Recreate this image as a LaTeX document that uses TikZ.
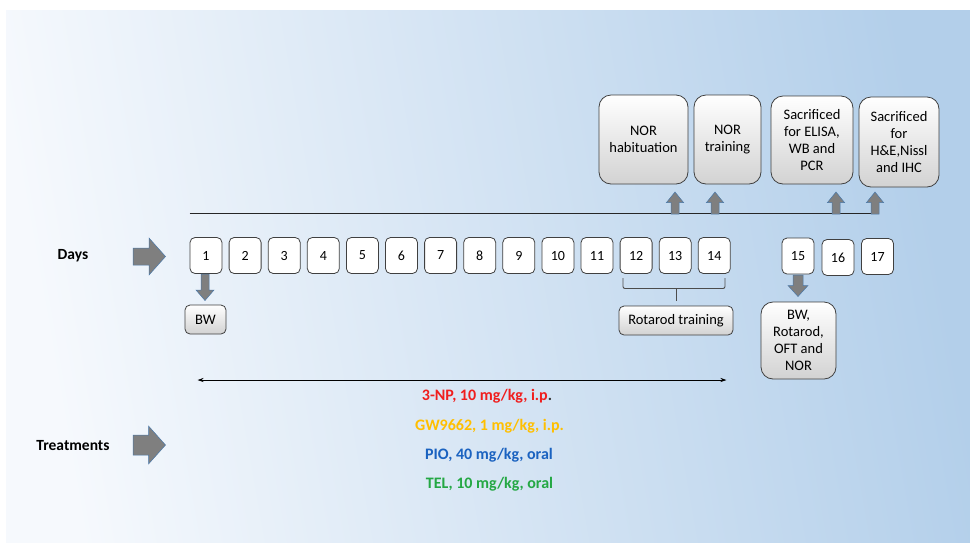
\documentclass[tikz,border=0pt]{standalone}
\usepackage{fontspec}
\setmainfont{Carlito}
\usetikzlibrary{arrows.meta,calc}

\definecolor{bgL}{HTML}{F6F9FD}
\definecolor{bgR}{HTML}{B3CFEA}
\definecolor{arrfill}{HTML}{7F7F7F}
\definecolor{arredge}{HTML}{4A78A8}
\definecolor{boxedge}{HTML}{404040}
\definecolor{boxlow}{HTML}{D2D2D2}
\definecolor{npred}{HTML}{F01E1E}
\definecolor{gwgold}{HTML}{FFBF00}
\definecolor{pioblue}{HTML}{1A62C0}
\definecolor{telgreen}{HTML}{24A844}

\tikzset{
  daybox/.style={draw=boxedge, line width=0.8pt, fill=white, rounded corners=5pt,
    minimum width=32pt, minimum height=36pt, inner sep=0pt,
    font=\fontsize{14}{16}\selectfont},
  eventbox/.style={draw=boxedge, line width=0.8pt, rounded corners=12pt,
    top color=white, bottom color=boxlow, align=center, inner sep=0pt,
    font=\fontsize{14.5}{17}\selectfont},
  smallbox/.style={eventbox, rounded corners=5pt},
  rowlabel/.style={font=\fontsize{15.5}{17}\selectfont\bfseries},
  treat/.style={font=\fontsize{16}{18}\selectfont\bfseries},
  blockarr/.style={fill=arrfill, draw=arredge, line width=0.5pt},
  bracketline/.style={line width=0.9pt, color=black!70},
}

% block arrow: tail, tip, shaft half width, head half width, head length
\newcommand\blockarrow[5]{%
  \coordinate (hb) at ($(#2)!#5!(#1)$);
  \path[blockarr]
    ($(#1)!#3!90:(#2)$) -- ($(hb)!#3!-90:(#1)$) -- ($(hb)!#4!-90:(#1)$) --
    (#2) -- ($(hb)!#4!90:(#1)$) -- ($(hb)!#3!90:(#1)$) --
    ($(#1)!#3!-90:(#2)$) -- cycle;
}

\begin{document}
\begin{tikzpicture}[x=1pt,y=-1pt]
  % page and shaded panel
  \path[use as bounding box] (0,0) rectangle (970,542);
  \fill[white] (0,0) rectangle (970,542);
  \shade[left color=bgL, right color=bgR, shading angle=100] (6,10) rectangle (970,542);

  % row labels and their arrows
  \node[rowlabel] (days) at (73,256) {Days};
  \node[rowlabel] (treatments) at (73,446) {Treatments};
  \coordinate (da1) at (133,256.5);
  \coordinate (da2) at (165.5,256.5);
  \blockarrow{da1}{da2}{8.5pt}{18.5pt}{16.5pt}
  \coordinate (ta1) at (133,445);
  \coordinate (ta2) at (165.5,445);
  \blockarrow{ta1}{ta2}{10pt}{19pt}{17pt}

  % days 1 to 14
  \foreach \i in {1,...,14}{
    \node[daybox] (d\i) at ({206+39.1*(\i-1)},255.5) {\i};
  }
  % days 15 to 17
  \node[daybox] (d15) at (798,256) {15};
  \node[daybox] (d16) at (838,257.5) {16};
  \node[daybox] (d17) at (877.5,256.5) {17};

  % time line with the upward markers
  \coordinate (tl1) at (189.5,213.5);
  \coordinate (tl2) at (877,213.5);
  \draw[line width=1.3pt, color=black!85] (tl1) -- (tl2);
  \foreach \xx/\nm in {675/ua, 715/ub, 836/uc, 875/ud}{
    \coordinate (\nm0) at (\xx,214);
    \coordinate (\nm1) at (\xx,192);
    \blockarrow{\nm0}{\nm1}{4pt}{8.5pt}{10.5pt}
  }

  % events above the time line
  \node[eventbox, minimum width=89pt, minimum height=89pt] (hab) at (643.5,139.5) {NOR\\habituation};
  \node[eventbox, minimum width=67pt, minimum height=89pt] (trn) at (727.5,139.5) {NOR\\training};
  \node[eventbox, minimum width=82pt, minimum height=88pt] (sacA) at (812,140) {Sacrificed\\for ELISA,\\WB and\\PCR};
  \node[eventbox, minimum width=80pt, minimum height=90pt] (sacB) at (899,142) {Sacrificed\\for\\H\&E,Nissl\\and IHC};

  % body weight on day 1
  \node[smallbox, minimum width=41pt, minimum height=29pt] (bw) at (205.5,319.5) {BW};
  \coordinate (bwa) at (205,274);
  \coordinate (bwb) at (205,300.5);
  \blockarrow{bwa}{bwb}{4pt}{9pt}{10.5pt}

  % rotarod training over days 12 to 14
  \node[smallbox, minimum width=114pt, minimum height=29pt] (rot) at (676,320.5) {Rotarod training};
  \coordinate (brL) at (623,278);
  \coordinate (brR) at (725,278);
  \coordinate (brM) at (676,288.5);
  \draw[bracketline, rounded corners=2pt] (brL) |- (brM) -| (brR);
  \draw[bracketline] (brM) -- (676,301);

  % tests on day 15
  \node[eventbox, minimum width=75pt, minimum height=77pt] (tests) at (798.5,340.5) {BW,\\Rotarod,\\OFT and\\NOR};
  \coordinate (t15a) at (798,275);
  \coordinate (t15b) at (798,296.5);
  \blockarrow{t15a}{t15b}{5pt}{10pt}{11pt}

  % treatment period
  \coordinate (tp1) at (197.5,380);
  \coordinate (tp2) at (726.5,380);
  \draw[line width=0.8pt, {Stealth[length=6pt,width=4pt]}-{Stealth[length=6pt,width=4pt]}] (tp1) -- (tp2);

  % treatments
  \node[treat, text=npred] (np) at (487,396.5) {3-NP, 10 mg/kg, i.p\textcolor{black!80}{.}};
  \node[treat, text=gwgold] (gw) at (489.5,426) {GW9662, 1 mg/kg, i.p.};
  \node[treat, text=pioblue] (pio) at (489,455.5) {PIO, 40 mg/kg, oral};
  \node[treat, text=telgreen] (tel) at (489.5,484) {TEL, 10 mg/kg, oral};
\end{tikzpicture}
\end{document}
